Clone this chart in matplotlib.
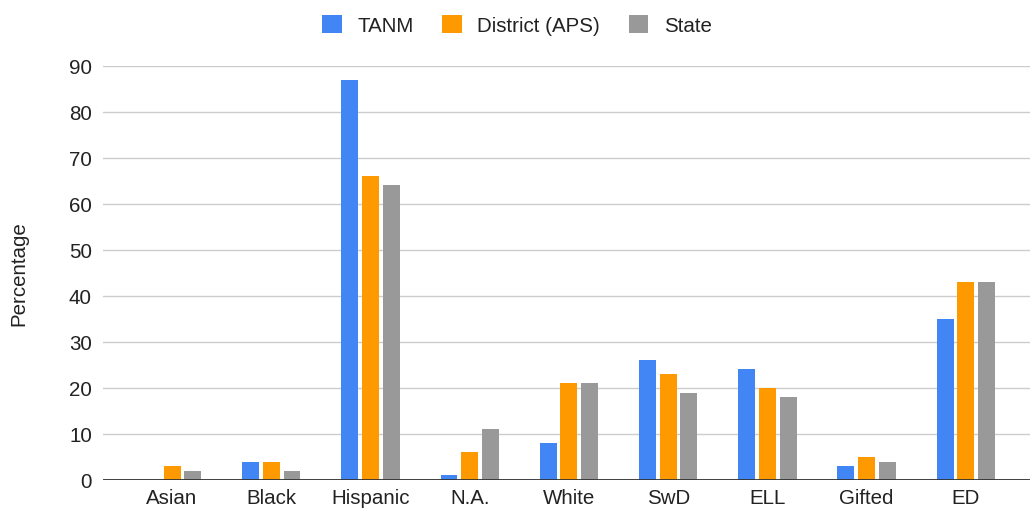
import matplotlib.pyplot as plt
import numpy as np

plt.rcParams['font.family'] = ['Liberation Sans', 'DejaVu Sans']

# data
categories = ["Asian", "Black", "Hispanic", "N.A.", "White", "SwD", "ELL", "Gifted", "ED"]
tanm = [0, 4, 87, 1, 8, 26, 24, 3, 35]
district = [3, 4, 66, 6, 21, 23, 20, 5, 43]
state = [2, 2, 64, 11, 21, 19, 18, 4, 43]
series_names = ["TANM", "District (APS)", "State"]
colors = ["#4285F4", "#FF9900", "#999999"]

fig = plt.figure(figsize=(10.34, 5.10), dpi=100)
ax = fig.add_axes([0.0996, 0.057, 0.8964, 0.812])

x = np.arange(len(categories))
width = 0.171
offset = 0.209
for i, (vals, name, c) in enumerate(zip([tanm, district, state], series_names, colors)):
    ax.bar(x + (i - 1) * offset, vals, width, color=c, label=name, zorder=3)

ax.set_ylim(0, 90)
ax.set_xlim(-0.696, 8.645)
ax.set_yticks(range(0, 91, 10))
ax.yaxis.grid(True, color="#cccccc", linewidth=1, zorder=0)
ax.axhline(0, color="#333333", linewidth=1.3, zorder=4)
for s in ax.spines.values():
    s.set_visible(False)
fs = 14.8
ax.tick_params(axis="both", length=0, labelsize=fs, colors="#222222")
ax.tick_params(axis="y", pad=8)
ax.tick_params(axis="x", pad=6)
ax.set_xticks(x)
ax.set_xticklabels(categories)
ax.set_ylabel("Percentage", fontsize=fs, color="#222222", labelpad=29)

fig.legend(loc="upper center", bbox_to_anchor=(0.5, 1.005), ncol=3, frameon=False,
           fontsize=fs, handlelength=0.95, handleheight=0.95, columnspacing=1.4,
           handletextpad=0.75, labelcolor="#222222")

fig.savefig("out.png", dpi=100)
